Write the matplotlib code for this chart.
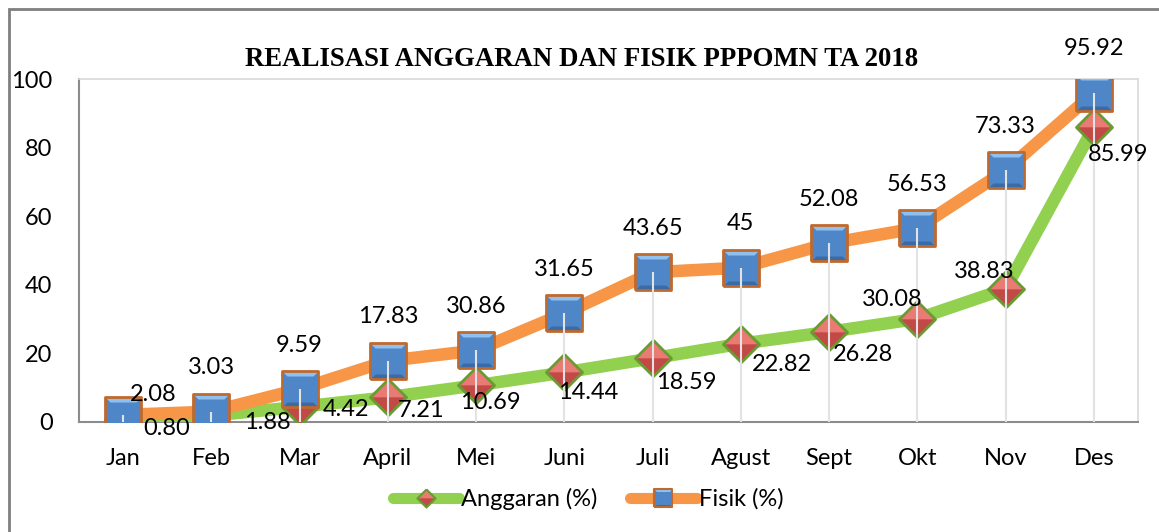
import matplotlib.pyplot as plt
from matplotlib.path import Path
from matplotlib.patches import Rectangle
from matplotlib.lines import Line2D
from matplotlib.legend_handler import HandlerTuple

# data
bulan = ['Jan', 'Feb', 'Mar', 'April', 'Mei', 'Juni', 'Juli', 'Agust', 'Sept', 'Okt', 'Nov', 'Des']
anggaran = [0.80, 1.88, 4.42, 7.21, 10.69, 14.44, 18.59, 22.82, 26.28, 30.08, 38.83, 85.99]
fisik = [2.08, 3.03, 9.59, 17.83, 20.86, 31.65, 43.65, 45, 52.08, 56.53, 73.33, 95.92]
teks_anggaran = ['0.80', '1.88', '4.42', '7.21', '10.69', '14.44', '18.59', '22.82', '26.28', '30.08', '38.83', '85.99']
teks_fisik = ['2.08', '3.03', '9.59', '17.83', '30.86', '31.65', '43.65', '45', '52.08', '56.53', '73.33', '95.92']

# label offsets (pixels)
off_anggaran = [(43, -9), (56, -7), (46, -3), (33, -13), (14, -17), (24, -20),
                (34, -24), (41, -21), (34, -23), (-25, 19), (-21, 17), (24, -27)]
off_fisik = [(30, 20)] + [(0, 44)] * 11

plt.rcParams['font.family'] = ['Lato', 'DejaVu Sans']
FS = 17

# marker pieces (bevel look)
sq_full = Path([(-1, -1), (1, -1), (1, 1), (-1, 1), (-1, -1)])
sq_top = Path([(-1, 1), (1, 1), (0.72, 0.72), (-0.72, 0.72), (-1, 1)])
sq_bot = Path([(-1, -1), (1, -1), (0.72, -0.72), (-0.72, -0.72), (-1, -1)])
dm_full = Path([(0, 1), (1, 0), (0, -1), (-1, 0), (0, 1)])
dm_top = Path([(-1, 0), (0, 1), (1, 0), (-1, 0)])
dm_bot = Path([(-1, 0), (0, -1), (1, 0), (-1, 0)])

sq_parts = [(sq_full, '#4f86c8'), (sq_top, '#8fc0f0'), (sq_bot, '#3b6ba6')]
dm_parts = [(dm_full, '#d95b57'), (dm_top, '#e97a74'), (dm_bot, '#c24a46')]

fig = plt.figure(figsize=(11.59, 5.32), dpi=100)
ax = fig.add_axes([79 / 1159, 1 - 422 / 532, (1138 - 79) / 1159, (422 - 79) / 532])

x = list(range(len(bulan)))
MS = 26

# Anggaran
ax.plot(x, anggaran, color='#92d050', lw=9, solid_capstyle='round', zorder=3)
for p, c in dm_parts:
    ax.plot(x, anggaran, ls='none', marker=p, ms=MS, mfc=c, mec='none', zorder=4)
ax.plot(x, anggaran, ls='none', marker=dm_full, ms=MS, mfc='none', mec='#6b9a35', mew=2, zorder=4)

# Fisik
ax.plot(x, fisik, color='#f79646', lw=9, solid_capstyle='round', zorder=5)
for p, c in sq_parts:
    ax.plot(x, fisik, ls='none', marker=p, ms=MS, mfc=c, mec='none', zorder=6)
ax.plot(x, fisik, ls='none', marker=sq_full, ms=MS, mfc='none', mec='#c0692d', mew=2, zorder=6)

# drop lines
tinggi = [max(a, f) for a, f in zip(anggaran, fisik)]
ax.vlines(x, 0, tinggi, color='#e3e3e3', lw=1.5, zorder=8)

# data labels
for i in x:
    ax.annotate(teks_fisik[i], (i, fisik[i]), xytext=off_fisik[i], textcoords='offset pixels',
                ha='center', va='center', fontsize=FS, zorder=9)
    ax.annotate(teks_anggaran[i], (i, anggaran[i]), xytext=off_anggaran[i], textcoords='offset pixels',
                ha='center', va='center', fontsize=FS, zorder=9)

ax.set_xlim(-0.5, 11.5)
ax.set_ylim(0, 100)
ax.set_yticks([0, 20, 40, 60, 80, 100])
ax.set_xticks(x)
ax.set_xticklabels(bulan)
ax.tick_params(axis='both', length=0, labelsize=FS)
ax.tick_params(axis='y', pad=19)
ax.tick_params(axis='x', pad=19)
for s in ['top', 'right']:
    ax.spines[s].set_color('#d9d9d9')
    ax.spines[s].set_linewidth(1.2)
for s in ['left', 'bottom']:
    ax.spines[s].set_color('#8c8c8c')
    ax.spines[s].set_linewidth(1.5)

fig.text(582 / 1159, 1 - 59 / 532, 'REALISASI ANGGARAN DAN FISIK PPPOMN TA 2018',
         family='Liberation Serif', fontweight='bold', fontsize=19.3, ha='center', va='center')

# legend
h1 = tuple([Line2D([], [], color='#92d050', lw=8, solid_capstyle='round')] +
           [Line2D([], [], ls='none', marker=p, ms=13, mfc=c, mec='none') for p, c in dm_parts] +
           [Line2D([], [], ls='none', marker=dm_full, ms=13, mfc='none', mec='#6b9a35', mew=1.5)])
h2 = tuple([Line2D([], [], color='#f79646', lw=8, solid_capstyle='round')] +
           [Line2D([], [], ls='none', marker=p, ms=13, mfc=c, mec='none') for p, c in sq_parts] +
           [Line2D([], [], ls='none', marker=sq_full, ms=13, mfc='none', mec='#c0692d', mew=1.5)])
fig.legend([h1, h2], ['Anggaran (%)', 'Fisik (%)'], handler_map={tuple: HandlerTuple(ndivide=1, pad=0)},
           loc='center', bbox_to_anchor=(588 / 1159, 1 - 499 / 532), ncol=2, frameon=False,
           fontsize=FS, handlelength=2.8, handletextpad=0.1, columnspacing=1.4)

# outer chart border
fig.patches.append(Rectangle((8.5 / 1159, -0.2), 1.5, 1.2 - 8.5 / 532, transform=fig.transFigure,
                             fill=False, edgecolor='#7f7f7f', lw=2))

fig.savefig('out.png', dpi=100)
